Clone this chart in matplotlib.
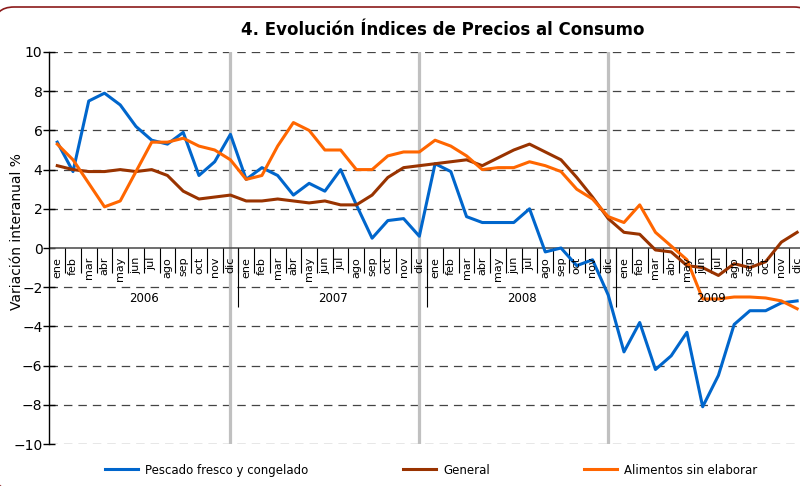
import numpy as np
import matplotlib as mpl
mpl.use('Agg')
import matplotlib.pyplot as plt
from matplotlib.patches import FancyBboxPatch
from matplotlib.transforms import IdentityTransform

# monthly year-on-year change (%), ene 2006 .. dic 2009
meses = ['ene', 'feb', 'mar', 'abr', 'may', 'jun', 'jul', 'ago', 'sep', 'oct', 'nov', 'dic']
anios = ['2006', '2007', '2008', '2009']

pescado = [5.4, 3.9, 7.5, 7.9, 7.3, 6.2, 5.5, 5.3, 5.9, 3.7, 4.4, 5.8,
           3.5, 4.1, 3.7, 2.7, 3.3, 2.9, 4.0, 2.2, 0.5, 1.4, 1.5, 0.6,
           4.3, 3.9, 1.6, 1.3, 1.3, 1.3, 2.0, -0.2, 0.0, -0.9, -0.6, -2.4,
           -5.3, -3.8, -6.2, -5.5, -4.3, -8.1, -6.5, -3.9, -3.2, -3.2, -2.8, -2.7]

general = [4.2, 4.0, 3.9, 3.9, 4.0, 3.9, 4.0, 3.7, 2.9, 2.5, 2.6, 2.7,
           2.4, 2.4, 2.5, 2.4, 2.3, 2.4, 2.2, 2.2, 2.7, 3.6, 4.1, 4.2,
           4.3, 4.4, 4.5, 4.2, 4.6, 5.0, 5.3, 4.9, 4.5, 3.6, 2.6, 1.5,
           0.8, 0.7, -0.1, -0.2, -0.9, -1.0, -1.4, -0.8, -1.0, -0.7, 0.3, 0.8]

alimentos = [5.3, 4.5, 3.3, 2.1, 2.4, 3.9, 5.4, 5.4, 5.6, 5.2, 5.0, 4.5,
             3.5, 3.7, 5.2, 6.4, 6.0, 5.0, 5.0, 4.0, 4.0, 4.7, 4.9, 4.9,
             5.5, 5.2, 4.7, 4.0, 4.1, 4.1, 4.4, 4.2, 3.9, 3.0, 2.5, 1.6,
             1.3, 2.2, 0.8, 0.1, -0.6, -2.6, -2.6, -2.5, -2.5, -2.55, -2.7, -3.1]

n = len(pescado)
x = np.arange(n)

plt.rcParams['lines.scale_dashes'] = False

fig = plt.figure(figsize=(8, 4.86), dpi=100)

# rounded dark red frame, left side sits just outside the picture
# (white face so agg does not clip the outline onto the canvas edge)
frame = FancyBboxPatch((-6, -4), 820, 483, boxstyle='round,pad=0,rounding_size=20',
                       transform=IdentityTransform(), facecolor='white',
                       edgecolor='#8B1A1A', lw=1.2, zorder=-1)
fig.add_artist(frame)

ax = fig.add_axes([49.4/800, 42/486, 755.6/800, 392/486])
ax.set_xlim(-0.5, n - 0.5)
ax.set_ylim(-10, 10)
ax.patch.set_visible(False)

for s in ['top', 'right', 'bottom']:
    ax.spines[s].set_visible(False)
ax.spines['left'].set_linewidth(1.0)
ax.spines['left'].set_zorder(6)

ax.set_yticks(range(-10, 11, 2))
ax.set_xticks([])
ax.tick_params(axis='y', direction='inout', length=8, width=1, labelsize=10, pad=1)

# dashed grid, solid zero line
for v in range(-10, 11, 2):
    if v == 0:
        ax.axhline(0, color='#555555', lw=1.2, zorder=2)
    else:
        ax.axhline(v, color='#444444', lw=0.9, linestyle=(0, (6.1, 4.3)), zorder=1)

# gray dividers at december (only the first three years)
for i in [11, 23, 35]:
    ax.axvline(i, color='#c0c0c0', lw=2.3, zorder=1.5)

# month separators and year separators below the zero line
ax.vlines(np.arange(0.5, n - 1, 1), -1.26, 0, color='black', lw=0.8, zorder=2)
ax.vlines(np.arange(11.5, n - 1, 12), -3.0, 0, color='black', lw=0.8, zorder=2)

l1, = ax.plot(x, pescado, color='#0066CC', lw=2.2, zorder=3, label='Pescado fresco y congelado')
l2, = ax.plot(x, general, color='#993300', lw=2.2, zorder=3, label='General')
l3, = ax.plot(x, alimentos, color='#FF6600', lw=2.2, zorder=3, label='Alimentos sin elaborar')

for i in range(n):
    ax.text(x[i], -0.45, meses[i % 12], rotation=90, ha='center', va='top', fontsize=8, zorder=7)
for k, a in enumerate(anios):
    ax.text(5.5 + 12*k, -2.6, a, ha='center', va='center', fontsize=8.5, zorder=7)

fig.text(17/800, 1 - 232/486, 'Variación interanual %', rotation=90, ha='center', va='center', fontsize=10)
fig.text(442.5/800, 1 - 30/486, '4. Evolución Índices de Precios al Consumo',
         ha='center', va='center', fontsize=12, fontweight='bold')

fig.legend(handles=[l1, l2, l3], loc='center left', bbox_to_anchor=(105/800, 1 - 470/486),
           ncol=3, frameon=False, fontsize=8.5, handlelength=2.8, handletextpad=0.6,
           columnspacing=8.0, borderpad=0, borderaxespad=0)

fig.savefig('out.png', dpi=100)
